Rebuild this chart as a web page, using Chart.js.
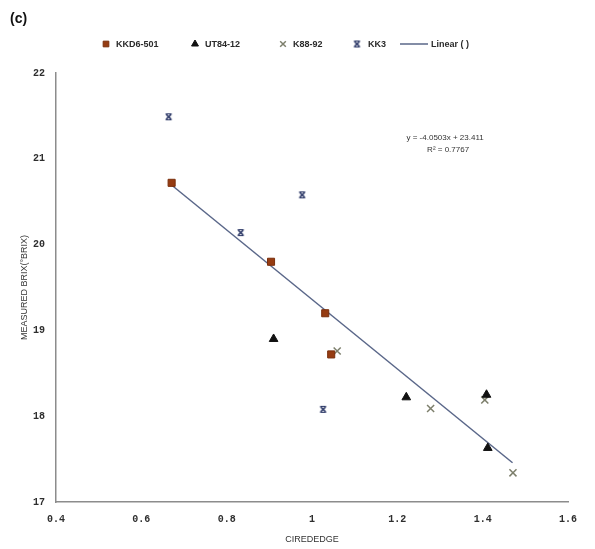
<!DOCTYPE html>
<html>
<head>
<meta charset="utf-8">
<script src="https://cdn.jsdelivr.net/npm/chart.js@4/dist/chart.umd.min.js"></script>
<style>
  html, body { margin: 0; padding: 0; background: #fff; }
  #wrap { width: 595px; height: 549px; position: relative; }
</style>
</head>
<body>
<div id="wrap"><canvas id="c" width="595" height="549"></canvas></div>
<script>
// CIREDEDGE index vs. measured Brix for four sugarcane cultivars
const kkd6X = [0.671, 0.904, 1.031, 1.045];
const kkd6Y = [20.72, 19.80, 19.20, 18.72];

const ut84X = [0.910, 1.221, 1.409, 1.412];
const ut84Y = [18.90, 18.22, 18.25, 17.63];

const k88X = [1.059, 1.278, 1.405, 1.471];
const k88Y = [18.76, 18.09, 18.19, 17.34];

const kk3X = [0.664, 0.833, 0.977, 1.026];
const kk3Y = [21.49, 20.14, 20.58, 18.08];

// Linear fit reported on the chart
const fitSlope = -4.0503;
const fitIntercept = 23.411;
const fitR2 = 0.7767;
const fitRange = [0.67, 1.47];

const xTicks = [0.4, 0.6, 0.8, 1.0, 1.2, 1.4, 1.6];
const yTicks = [17, 18, 19, 20, 21, 22];

const seriesNames = ['KKD6-501', 'UT84-12', 'K88-92', 'KK3', 'Linear ( )'];

function pts(xs, ys) { return xs.map((x, i) => ({ x: x, y: ys[i] })); }

// KK3 marker: an x closed by short bars top and bottom
function kk3Marker() {
  const c = document.createElement('canvas');
  c.width = 9; c.height = 9;
  const g = c.getContext('2d');
  g.strokeStyle = '#2b3766';
  g.lineWidth = 1.7;
  g.beginPath();
  g.moveTo(2, 2); g.lineTo(7, 7);
  g.moveTo(7, 2); g.lineTo(2, 7);
  g.stroke();
  g.lineWidth = 1.2;
  g.beginPath();
  g.moveTo(1.5, 1.5); g.lineTo(7.5, 1.5);
  g.moveTo(1.5, 7.5); g.lineTo(7.5, 7.5);
  g.stroke();
  return c;
}
const kk3Img = kk3Marker();

const fitData = fitRange.map(x => ({ x: x, y: fitIntercept + fitSlope * x }));

const labelFont = "'Liberation Sans', Arial, sans-serif";

const overlay = {
  id: 'overlay',
  afterDraw(chart) {
    const ctx = chart.ctx;
    const xs = chart.scales.x, ys = chart.scales.y;
    ctx.save();
    // panel tag
    ctx.fillStyle = '#111';
    ctx.font = "bold 14px " + labelFont;
    ctx.textBaseline = 'middle';
    ctx.textAlign = 'left';
    ctx.fillText('(c)', 10, 19);

    // legend row
    const items = [
      { ds: 0, mx: 106, tx: 116 },
      { ds: 1, mx: 195, tx: 205 },
      { ds: 2, mx: 283, tx: 293 },
      { ds: 3, mx: 357, tx: 368 },
      { ds: 4, mx: 414, tx: 431 }
    ];
    const ly = 44;
    ctx.font = "bold 9px " + labelFont;
    items.forEach(it => {
      const ds = chart.data.datasets[it.ds];
      if (ds.type === 'line') {
        ctx.strokeStyle = ds.borderColor;
        ctx.lineWidth = 1.5;
        ctx.beginPath();
        ctx.moveTo(it.mx - 14, ly); ctx.lineTo(it.mx + 14, ly);
        ctx.stroke();
      } else if (ds.pointStyle instanceof HTMLCanvasElement) {
        ctx.drawImage(ds.pointStyle, it.mx - 4.5, ly - 4.5);
      } else {
        ctx.fillStyle = ds.backgroundColor;
        ctx.strokeStyle = ds.borderColor;
        ctx.lineWidth = ds.borderWidth;
        Chart.helpers.drawPoint(ctx, {
          pointStyle: ds.pointStyle,
          radius: 4,
          borderWidth: ds.borderWidth
        }, it.mx, ly);
      }
      ctx.fillStyle = '#2a2a2a';
      ctx.fillText(ds.label, it.tx, ly + 0.5);
    });

    // regression equation
    const ex = xs.getPixelForValue(1.312);
    const ey = ys.getPixelForValue(21.25);
    ctx.font = "8px " + labelFont;
    ctx.textAlign = 'center';
    ctx.fillStyle = '#333';
    ctx.fillText('y = ' + fitSlope.toFixed(4) + 'x + ' + fitIntercept.toFixed(3), ex, ey);
    ctx.fillText('R² = ' + fitR2.toFixed(4), ex + 3, ey + 12);
    ctx.restore();
  }
};

new Chart(document.getElementById('c'), {
  type: 'scatter',
  data: {
    datasets: [
      {
        label: seriesNames[0], data: pts(kkd6X, kkd6Y),
        pointStyle: 'rect', pointRadius: 5, pointHoverRadius: 5,
        backgroundColor: '#963c12', borderColor: '#7a2f0c', borderWidth: 1
      },
      {
        label: seriesNames[1], data: pts(ut84X, ut84Y),
        pointStyle: 'triangle', pointRadius: 5, pointHoverRadius: 5,
        backgroundColor: '#111111', borderColor: '#111111', borderWidth: 1
      },
      {
        label: seriesNames[2], data: pts(k88X, k88Y),
        pointStyle: 'crossRot', pointRadius: 5, pointHoverRadius: 5,
        backgroundColor: '#7d7f6c', borderColor: '#7d7f6c', borderWidth: 1.5
      },
      {
        label: seriesNames[3], data: pts(kk3X, kk3Y),
        pointStyle: kk3Img, pointRadius: 5,
        backgroundColor: '#2b3766', borderColor: '#2b3766'
      },
      {
        type: 'line', label: seriesNames[4], data: fitData,
        borderColor: '#5a6789', borderWidth: 1.5,
        pointRadius: 0, fill: false, tension: 0, order: 10
      }
    ]
  },
  options: {
    responsive: false,
    animation: false,
    events: [],
    layout: { padding: { top: 73, right: 27, bottom: 0, left: 0 } },
    plugins: { legend: { display: false }, tooltip: { enabled: false } },
    scales: {
      x: {
        type: 'linear', min: 0.4, max: 1.6,
        afterFit(s) { s.height = 47; },
        afterBuildTicks(s) { s.ticks = xTicks.map(v => ({ value: v })); },
        grid: { display: false, drawTicks: false },
        border: { display: true, color: '#8c8c8c', width: 1.5 },
        ticks: {
          padding: 11, color: '#2e2e2e',
          font: { family: "'Liberation Mono', monospace", size: 10, weight: 'bold' },
          callback: v => String(Math.round(v * 10) / 10)
        },
        title: {
          display: true, text: 'CIREDEDGE', color: '#333',
          font: { family: "'Liberation Sans Narrow', " + labelFont, size: 9 },
          padding: { top: 0, bottom: 4 }
        }
      },
      y: {
        type: 'linear', min: 17, max: 22,
        afterFit(s) { s.width = 56; },
        afterBuildTicks(s) { s.ticks = yTicks.map(v => ({ value: v })); },
        grid: { display: false, drawTicks: false },
        border: { display: true, color: '#8c8c8c', width: 1.5 },
        ticks: {
          padding: 11, color: '#2e2e2e',
          font: { family: "'Liberation Mono', monospace", size: 10, weight: 'bold' },
          callback: v => String(v)
        },
        title: {
          display: true, text: 'MEASURED BRIX(°BRIX)', color: '#333',
          font: { family: "'Liberation Sans Narrow', " + labelFont, size: 9 },
          padding: { top: 19, bottom: 0 }
        }
      }
    }
  },
  plugins: [overlay]
});
</script>
</body>
</html>
